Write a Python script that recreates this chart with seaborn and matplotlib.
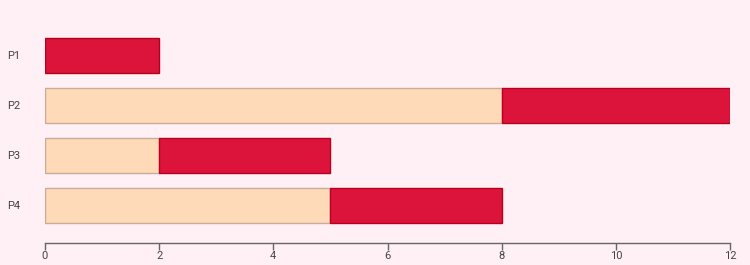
import matplotlib
matplotlib.use("Agg")
import matplotlib.pyplot as plt
import seaborn as sns
import pandas as pd

processes = ["P1", "P2", "P3", "P4"]
waiting = [0, 8, 2, 5]
burst = [2, 4, 3, 3]
x_ticks = [0, 2, 4, 6, 8, 10, 12]

bg = "#fff0f5"
peach = "#ffdab9"
crimson = "#dc143c"

sns.set_theme(style="white")
plt.rcParams["font.family"] = ["Roboto", "DejaVu Sans"]

fig = plt.figure(figsize=(7.5, 2.65), dpi=100, facecolor=bg)
ax = fig.add_axes([45/750, 22/265, 685/750, 213/265])
ax.set_facecolor(bg)

df = pd.DataFrame({"process": processes, "waiting": waiting, "burst": burst})

sns.barplot(data=df, y="process", x="waiting", orient="h", color=peach,
            saturation=1, width=0.7, edgecolor="#c9ab98", linewidth=1, ax=ax)
ax.barh(df["process"], df["burst"], left=df["waiting"], height=0.7,
        color=crimson, edgecolor="#b8001c", linewidth=1)

ax.set_xlim(0, 12)
ax.set_ylim(3.76, -0.5)
ax.set_xticks(x_ticks)
ax.set_xticklabels([str(t) for t in x_ticks])
ax.set_xlabel("")
ax.set_ylabel("")

for s in ["top", "right", "left"]:
    ax.spines[s].set_visible(False)
ax.spines["bottom"].set_color("#666666")
ax.spines["bottom"].set_linewidth(1)
ax.tick_params(axis="x", bottom=True, length=5, width=1, color="#666666",
               labelsize=8, labelcolor="#444444", pad=1)
ax.tick_params(axis="y", left=False, length=0, labelsize=8,
               labelcolor="#444444", pad=18)

fig.savefig("out.png", dpi=100, facecolor=bg)
